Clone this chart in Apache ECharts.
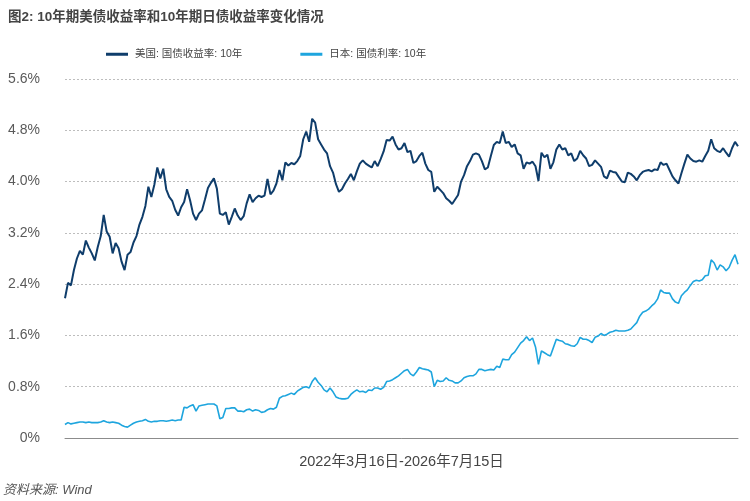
<!DOCTYPE html>
<html>
<head>
<meta charset="utf-8">
<script src="https://cdn.jsdelivr.net/npm/echarts@6/dist/echarts.min.js"></script>
<style>html,body{margin:0;padding:0;background:#fff;}#c{width:750px;height:501px;}</style>
</head>
<body>
<div id="c"></div>
<script>
// Weekly observations (Wednesdays) from 2022-03-16 to 2026-07-15
var startDate = '2022-03-16';
var endDate = '2026-07-15';
var seriesNames = ['美国: 国债收益率: 10年', '日本: 国债利率: 10年'];
var yTicks = [0, 0.8, 1.6, 2.4, 3.2, 4.0, 4.8, 5.6];

var usYield = [
2.18,2.42,2.38,2.62,2.80,2.92,2.86,3.08,2.97,2.88,
2.77,2.98,3.15,3.48,3.22,3.14,2.88,3.04,2.96,2.75,
2.62,2.86,2.90,3.05,3.15,3.33,3.45,3.62,3.92,3.76,
3.95,4.22,4.05,4.20,3.88,3.76,3.70,3.56,3.47,3.60,
3.68,3.88,3.71,3.50,3.40,3.50,3.55,3.72,3.90,3.98,
4.05,3.89,3.50,3.48,3.52,3.33,3.45,3.58,3.47,3.40,
3.46,3.66,3.80,3.68,3.74,3.78,3.76,3.78,4.04,3.80,
3.86,3.97,4.18,4.02,4.30,4.25,4.29,4.27,4.32,4.40,
4.66,4.78,4.62,4.98,4.92,4.66,4.58,4.50,4.44,4.24,
4.14,3.96,3.84,3.88,3.97,4.04,4.12,4.02,4.16,4.28,
4.33,4.28,4.25,4.22,4.32,4.24,4.35,4.47,4.65,4.64,
4.70,4.58,4.50,4.52,4.60,4.46,4.48,4.29,4.32,4.40,
4.45,4.28,4.18,4.15,3.84,3.92,3.87,3.82,3.74,3.70,
3.65,3.72,3.79,4.00,4.10,4.24,4.32,4.42,4.44,4.42,
4.32,4.19,4.22,4.40,4.57,4.62,4.60,4.78,4.60,4.62,
4.54,4.58,4.44,4.41,4.20,4.30,4.28,4.31,4.24,4.01,
4.45,4.38,4.42,4.20,4.30,4.50,4.58,4.50,4.52,4.41,
4.44,4.32,4.36,4.48,4.41,4.36,4.24,4.26,4.33,4.28,
4.23,4.08,4.05,4.17,4.15,4.14,4.07,4.00,3.99,4.14,
4.12,4.08,4.02,4.10,4.15,4.17,4.18,4.16,4.19,4.18,
4.30,4.26,4.28,4.18,4.08,4.02,3.97,4.13,4.28,4.42,
4.36,4.32,4.31,4.33,4.31,4.40,4.48,4.66,4.52,4.48,
4.46,4.52,4.45,4.39,4.52,4.62,4.55
];

var jpYield = [
0.21,0.24,0.22,0.23,0.24,0.25,0.25,0.24,0.25,0.24,
0.24,0.24,0.25,0.27,0.25,0.24,0.25,0.24,0.23,0.20,
0.18,0.17,0.20,0.23,0.25,0.26,0.27,0.29,0.26,0.25,
0.26,0.26,0.27,0.27,0.26,0.27,0.28,0.27,0.28,0.28,
0.48,0.47,0.50,0.52,0.42,0.50,0.51,0.52,0.53,0.53,
0.53,0.50,0.30,0.32,0.46,0.46,0.47,0.47,0.42,0.42,
0.41,0.44,0.45,0.42,0.44,0.43,0.40,0.41,0.44,0.46,
0.45,0.48,0.62,0.65,0.66,0.68,0.70,0.68,0.73,0.76,
0.79,0.80,0.78,0.88,0.94,0.87,0.82,0.75,0.72,0.78,
0.72,0.64,0.62,0.61,0.61,0.62,0.68,0.72,0.75,0.72,
0.73,0.71,0.75,0.74,0.78,0.78,0.76,0.79,0.88,0.89,
0.91,0.94,0.97,1.01,1.05,1.07,1.00,0.97,1.03,1.10,
1.08,1.07,1.06,1.03,0.80,0.90,0.88,0.89,0.94,0.90,
0.89,0.86,0.86,0.89,0.94,0.96,0.97,0.97,1.00,1.07,
1.07,1.05,1.06,1.07,1.06,1.12,1.10,1.23,1.22,1.22,
1.30,1.34,1.41,1.48,1.52,1.58,1.52,1.56,1.42,1.15,
1.36,1.33,1.30,1.28,1.41,1.54,1.52,1.51,1.47,1.46,
1.44,1.43,1.47,1.57,1.54,1.54,1.52,1.49,1.57,1.59,
1.63,1.60,1.62,1.65,1.66,1.68,1.67,1.67,1.67,1.68,
1.70,1.75,1.80,1.90,1.96,1.98,2.01,2.06,2.10,2.17,
2.31,2.27,2.26,2.26,2.17,2.12,2.10,2.22,2.27,2.31,
2.38,2.44,2.46,2.45,2.47,2.53,2.54,2.78,2.73,2.62,
2.70,2.67,2.61,2.66,2.77,2.86,2.71
];

function fmt(d){
  var m = d.getUTCMonth()+1, day = d.getUTCDate();
  return d.getUTCFullYear()+'-'+(m<10?'0':'')+m+'-'+(day<10?'0':'')+day;
}
var dates = [];
var t0 = Date.parse(startDate+'T00:00:00Z');
for (var i = 0; i < usYield.length; i++) dates.push(fmt(new Date(t0 + i*7*86400000)));

var FONT = '"Liberation Sans","Noto Sans CJK SC",sans-serif';
var chart = echarts.init(document.getElementById('c'), null, {renderer:'canvas'});
chart.setOption({
  backgroundColor:'#ffffff',
  animation:false,
  textStyle:{fontFamily:FONT},
  title:{
    text:'图2: 10年期美债收益率和10年期日债收益率变化情况',
    left:3, top:6,
    textStyle:{fontSize:13.5, fontWeight:'bold', color:'#444444', fontFamily:FONT}
  },
  legend:{
    left:101, top:44,
    icon:'rect', itemWidth:22, itemHeight:3, itemGap:58,
    textStyle:{fontSize:10.5, color:'#444444', fontFamily:FONT, padding:[0,0,0,2]},
    data:seriesNames
  },
  grid:{left:65, right:12, top:79, bottom:63, containLabel:false},
  xAxis:{
    type:'category', data:dates, boundaryGap:false,
    axisTick:{show:false}, axisLabel:{show:false},
    axisLine:{lineStyle:{color:'#8c8c8c', width:1}},
    splitLine:{show:false},
    name:startDate.slice(0,4)+'年3月16日-'+endDate.slice(0,4)+'年7月15日',
    nameLocation:'middle', nameGap:17,
    nameTextStyle:{fontSize:14.5, color:'#444444', fontFamily:FONT}
  },
  yAxis:{
    type:'value', min:yTicks[0], max:yTicks[yTicks.length-1], interval:0.8,
    axisLine:{show:false}, axisTick:{show:false},
    axisLabel:{
      fontSize:14, color:'#5a5a5a', margin:25, fontFamily:FONT,
      formatter:function(v){ return v===0 ? '0%' : v.toFixed(1)+'%'; }
    },
    splitLine:{lineStyle:{color:'#bdbdbd', type:[2,2], width:1}}
  },
  series:[
    {name:seriesNames[0], type:'line', data:usYield, showSymbol:false, symbol:'none',
     lineStyle:{color:'#0f3d6b', width:2}, itemStyle:{color:'#0f3d6b'}},
    {name:seriesNames[1], type:'line', data:jpYield, showSymbol:false, symbol:'none',
     lineStyle:{color:'#1ea5de', width:1.6}, itemStyle:{color:'#1ea5de'}}
  ],
  graphic:[{
    type:'text', left:3, top:484,
    style:{text:'资料来源: Wind', fontSize:13, fontStyle:'italic', fill:'#555555', fontFamily:FONT}
  }]
});
</script>
</body>
</html>
